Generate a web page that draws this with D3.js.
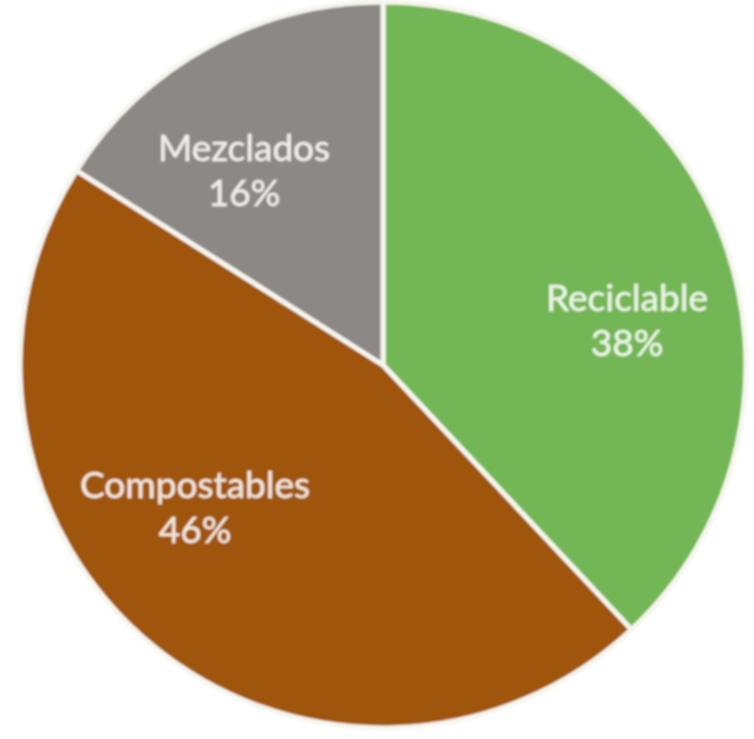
<!DOCTYPE html>
<html>
<head>
<meta charset="utf-8">
<script src="https://cdn.jsdelivr.net/npm/d3@7"></script>
<style>
  html, body { margin: 0; padding: 0; background: #fff; }
</style>
</head>
<body>
<script>
const categories = ['Reciclable', 'Compostables', 'Mezclados'];
const values = [38, 46, 16];
const colors = ['#73b655', '#a0540d', '#8b8886'];

const width = 754;
const height = 739;
const cx = 383;
const cy = 365;
const radius = 363;

// label centres, offset from the pie centre
const labelOffsets = [[244, -50], [-188, 137], [-139, -200]];

const svg = d3.create('svg')
  .attr('width', width)
  .attr('height', height);

const defs = svg.append('defs');
defs.append('filter')
  .attr('id', 'soft')
  .append('feGaussianBlur')
  .attr('stdDeviation', 1);

const pie = d3.pie().sort(null).value(d => d)(values);
const arc = d3.arc().innerRadius(0).outerRadius(radius);

const g = svg.append('g')
  .attr('transform', `translate(${cx}, ${cy})`)
  .attr('filter', 'url(#soft)');

g.selectAll('path')
  .data(pie)
  .join('path')
  .attr('d', arc)
  .attr('fill', (d, i) => colors[i])
  .attr('stroke', '#f6f6ee')
  .attr('stroke-width', 5)
  .attr('stroke-linejoin', 'round');

const labels = g.selectAll('text')
  .data(pie)
  .join('text')
  .attr('transform', (d, i) => `translate(${labelOffsets[i][0]}, ${labelOffsets[i][1]})`)
  .attr('text-anchor', 'middle')
  .attr('font-family', 'Lato, sans-serif')
  .attr('font-size', 37)
  .attr('fill', '#ffffff')
  .attr('fill-opacity', 0.85)
  .attr('stroke', '#ffffff')
  .attr('stroke-opacity', 0.5)
  .attr('stroke-width', 0.8);

labels.append('tspan')
  .attr('x', 0)
  .attr('dy', '-0.1em')
  .text((d, i) => categories[i]);

labels.append('tspan')
  .attr('x', 0)
  .attr('dy', '1.2em')
  .text(d => d.data + '%');

document.body.append(svg.node());
</script>
</body>
</html>
